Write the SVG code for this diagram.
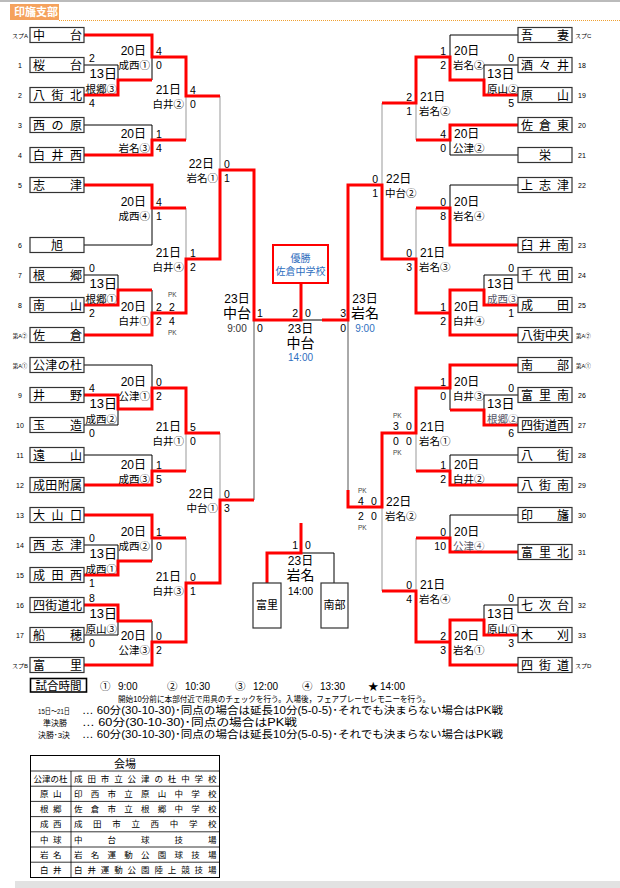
<svg xmlns="http://www.w3.org/2000/svg" width="620" height="888" viewBox="0 0 620 888">
<style>
text{font-family:'Liberation Sans','Noto Sans CJK JP',sans-serif;fill:#000}
.box{fill:#fff;stroke:#333;stroke-width:1.2}
.t{font-size:12px}
.n{font-size:7px;text-anchor:middle}
.nr{font-size:7px}
.d{font-size:12px}
.d13{font-size:13px}
.v{font-size:10.5px}
.s{font-size:10.5px}
.pk{font-size:6.5px;fill:#444}
.e{text-anchor:end}
.m{text-anchor:middle}
.bk{fill:none;stroke:#000;stroke-width:1}
.gr{fill:none;stroke:#999;stroke-width:1}
.g2{fill:none;stroke:#555;stroke-width:1}
.rd{fill:none;stroke:#f00;stroke-width:3}
.big{font-size:14px}
.tm{font-size:10px}
.blue{fill:#2f6fc0}
.tb{font-size:8.5px}
</style>
<rect x="0" y="0" width="620" height="888" fill="#fff"/>
<line x1="0" y1="1" x2="620" y2="1" stroke="#bbb" stroke-width="2"/>
<g id="header">
<rect x="10" y="4" width="49" height="16" fill="#f5a25d"/>
<text x="14" y="16" font-size="11" font-weight="bold" style="fill:#fff">印旛支部</text>
<line x1="59" y1="20.5" x2="620" y2="20.5" stroke="#f0a030" stroke-width="1" stroke-dasharray="1,1"/>
</g>

<g id="connectors">
<path class="bk" d="M84,65H118M84,125H152M84,245H152M84,275H118M84,365H152M84,425H118M84,455H152M84,545H118M84,635H118
M118,65V95M152,35V80M152,125V155M152,185V245M118,275V305M152,290V335M118,395V425M152,365V409M152,455V485M118,545V575M152,515V561M118,605V635M152,621V665
M518,35H450M518,65H484M518,155H450M518,185H450M518,275H484M518,395H484M518,455H450M518,515H450M518,605H484
M484,65V95M450,35V80M450,125V155M450,185V245M484,275V305M450,290V335M484,395V425M450,365V410M450,455V485M450,515V552M484,605V635M450,620V665
M301,320H322M301,553H334V583"/>
<path class="gr" d="M186,57V140M186,208V313M220,96V259M186,388V471M186,538V642M220,433V583
M416,57V140M416,208V313M382,103V259M416,388V471M416,538V642M382,433V591"/>
<path class="g2" d="M254,170V500M348,185V507"/>
<path class="rd" d="M84,35H152V57H186V96H220
M84,95H118V80H152
M84,155H152V140H186
M84,185H152V208H186
M84,305H118V290H152
M84,335H152V313H186V259H220V170H254V320H301V283
M84,395H118V409H152V388H186V433H220
M84,485H152V471H186
M84,515H152V538H186
M84,575H118V561H152
M84,605H118V621H152
M84,665H152V642H186V583H220V500H254
M301,523V553H267V583
M518,95H484V80H450V57H416V103H382
M518,125H450V140H416
M518,245H450V208H416
M518,305H484V290H450V313
M518,335H450V313H416V259H382V185H348V320H322
M518,365H450V388H416V433H382V507H348V490
M518,425H484V410H450
M518,485H450V471H416
M518,552H450V538H416
M518,635H484V620H450V642
M518,665H450V642H416V591H382"/>
</g>

<g id="L00"><rect class="box" x="30" y="27.5" width="54" height="15"/><text class="t" x="33 70" y="39.5">中台</text><text class="n" x="20" y="37.5" style="font-size:6px">スプA</text></g>
<g id="L01"><rect class="box" x="30" y="57.5" width="54" height="15"/><text class="t" x="33 70" y="69.5">桜台</text><text class="n" x="20" y="67.5">1</text></g>
<g id="L02"><rect class="box" x="30" y="87.5" width="54" height="15"/><text class="t" x="33 51.5 70" y="99.5">八街北</text><text class="n" x="20" y="97.5">2</text></g>
<g id="L03"><rect class="box" x="30" y="117.5" width="54" height="15"/><text class="t" x="33 51.5 70" y="129.5">西の原</text><text class="n" x="20" y="127.5">3</text></g>
<g id="L04"><rect class="box" x="30" y="147.5" width="54" height="15"/><text class="t" x="33 51.5 70" y="159.5">白井西</text><text class="n" x="20" y="157.5">4</text></g>
<g id="L05"><rect class="box" x="30" y="177.5" width="54" height="15"/><text class="t" x="33 70" y="189.5">志津</text><text class="n" x="20" y="187.5">5</text></g>
<g id="L06"><rect class="box" x="30" y="237.5" width="54" height="15"/><text class="t m" x="57" y="249.5">旭</text><text class="n" x="20" y="247.5">6</text></g>
<g id="L07"><rect class="box" x="30" y="267.5" width="54" height="15"/><text class="t" x="33 70" y="279.5">根郷</text><text class="n" x="20" y="277.5">7</text></g>
<g id="L08"><rect class="box" x="30" y="297.5" width="54" height="15"/><text class="t" x="33 70" y="309.5">南山</text><text class="n" x="20" y="307.5">8</text></g>
<g id="L09"><rect class="box" x="30" y="327.5" width="54" height="15"/><text class="t" x="33 70" y="339.5">佐倉</text><text class="n" x="20" y="337.5" style="font-size:5.5px">第A②</text></g>
<g id="L10"><rect class="box" x="30" y="357.5" width="54" height="15"/><text class="t" x="33 45.3 57.7 70" y="369.5">公津の杜</text><text class="n" x="20" y="367.5" style="font-size:5.5px">第A①</text></g>
<g id="L11"><rect class="box" x="30" y="387.5" width="54" height="15"/><text class="t" x="33 70" y="399.5">井野</text><text class="n" x="20" y="397.5">9</text></g>
<g id="L12"><rect class="box" x="30" y="417.5" width="54" height="15"/><text class="t" x="33 70" y="429.5">玉造</text><text class="n" x="20" y="427.5">10</text></g>
<g id="L13"><rect class="box" x="30" y="447.5" width="54" height="15"/><text class="t" x="33 70" y="459.5">遠山</text><text class="n" x="20" y="457.5">11</text></g>
<g id="L14"><rect class="box" x="30" y="477.5" width="54" height="15"/><text class="t" x="33 45.3 57.7 70" y="489.5">成田附属</text><text class="n" x="20" y="487.5">12</text></g>
<g id="L15"><rect class="box" x="30" y="507.5" width="54" height="15"/><text class="t" x="33 51.5 70" y="519.5">大山口</text><text class="n" x="20" y="517.5">13</text></g>
<g id="L16"><rect class="box" x="30" y="537.5" width="54" height="15"/><text class="t" x="33 51.5 70" y="549.5">西志津</text><text class="n" x="20" y="547.5">14</text></g>
<g id="L17"><rect class="box" x="30" y="567.5" width="54" height="15"/><text class="t" x="33 51.5 70" y="579.5">成田西</text><text class="n" x="20" y="577.5">15</text></g>
<g id="L18"><rect class="box" x="30" y="597.5" width="54" height="15"/><text class="t" x="33 45.3 57.7 70" y="609.5">四街道北</text><text class="n" x="20" y="607.5">16</text></g>
<g id="L19"><rect class="box" x="30" y="627.5" width="54" height="15"/><text class="t" x="33 70" y="639.5">船穂</text><text class="n" x="20" y="637.5">17</text></g>
<g id="L20"><rect class="box" x="30" y="657.5" width="54" height="15"/><text class="t" x="33 70" y="669.5">富里</text><text class="n" x="20" y="667.5" style="font-size:6px">スプB</text></g>

<g id="R00"><rect class="box" x="518" y="27.5" width="54" height="15"/><text class="t" x="521 557" y="39.5">吾妻</text><text class="nr" x="575" y="37.5" style="font-size:6px">スプC</text></g>
<g id="R01"><rect class="box" x="518" y="57.5" width="54" height="15"/><text class="t" x="521 539 557" y="69.5">酒々井</text><text class="nr" x="578" y="67.5">18</text></g>
<g id="R02"><rect class="box" x="518" y="87.5" width="54" height="15"/><text class="t" x="521 557" y="99.5">原山</text><text class="nr" x="578" y="97.5">19</text></g>
<g id="R03"><rect class="box" x="518" y="117.5" width="54" height="15"/><text class="t" x="521 539 557" y="129.5">佐倉東</text><text class="nr" x="578" y="127.5">20</text></g>
<g id="R04"><rect class="box" x="518" y="147.5" width="54" height="15"/><text class="t m" x="545" y="159.5">栄</text><text class="nr" x="578" y="157.5">21</text></g>
<g id="R05"><rect class="box" x="518" y="177.5" width="54" height="15"/><text class="t" x="521 539 557" y="189.5">上志津</text><text class="nr" x="578" y="187.5">22</text></g>
<g id="R06"><rect class="box" x="518" y="237.5" width="54" height="15"/><text class="t" x="521 539 557" y="249.5">臼井南</text><text class="nr" x="578" y="247.5">23</text></g>
<g id="R07"><rect class="box" x="518" y="267.5" width="54" height="15"/><text class="t" x="521 539 557" y="279.5">千代田</text><text class="nr" x="578" y="277.5">24</text></g>
<g id="R08"><rect class="box" x="518" y="297.5" width="54" height="15"/><text class="t" x="521 557" y="309.5">成田</text><text class="nr" x="578" y="307.5">25</text></g>
<g id="R09"><rect class="box" x="518" y="327.5" width="54" height="15"/><text class="t" x="521 533 545 557" y="339.5">八街中央</text><text class="nr" x="576" y="337.5" style="font-size:5.5px">第A②</text></g>
<g id="R10"><rect class="box" x="518" y="357.5" width="54" height="15"/><text class="t" x="521 557" y="369.5">南部</text><text class="nr" x="576" y="367.5" style="font-size:5.5px">第A①</text></g>
<g id="R11"><rect class="box" x="518" y="387.5" width="54" height="15"/><text class="t" x="521 539 557" y="399.5">富里南</text><text class="nr" x="578" y="397.5">26</text></g>
<g id="R12"><rect class="box" x="518" y="417.5" width="54" height="15"/><text class="t" x="521 533 545 557" y="429.5">四街道西</text><text class="nr" x="578" y="427.5">27</text></g>
<g id="R13"><rect class="box" x="518" y="447.5" width="54" height="15"/><text class="t" x="521 557" y="459.5">八街</text><text class="nr" x="578" y="457.5">28</text></g>
<g id="R14"><rect class="box" x="518" y="477.5" width="54" height="15"/><text class="t" x="521 539 557" y="489.5">八街南</text><text class="nr" x="578" y="487.5">29</text></g>
<g id="R15"><rect class="box" x="518" y="507.5" width="54" height="15"/><text class="t" x="521 557" y="519.5">印旛</text><text class="nr" x="578" y="517.5">30</text></g>
<g id="R16"><rect class="box" x="518" y="544.5" width="54" height="15"/><text class="t" x="521 539 557" y="556.5">富里北</text><text class="nr" x="578" y="554.5">31</text></g>
<g id="R17"><rect class="box" x="518" y="597.5" width="54" height="15"/><text class="t" x="521 539 557" y="609.5">七次台</text><text class="nr" x="578" y="607.5">32</text></g>
<g id="R18"><rect class="box" x="518" y="627.5" width="54" height="15"/><text class="t" x="521 557" y="639.5">木刈</text><text class="nr" x="578" y="637.5">33</text></g>
<g id="R19"><rect class="box" x="518" y="657.5" width="54" height="15"/><text class="t" x="521 539 557" y="669.5">四街道</text><text class="nr" x="575" y="667.5" style="font-size:6px">スプD</text></g>

<g id="match-labels-left">
<text class="d13 e" x="117" y="78">13日</text><text class="v e" x="117" y="93">根郷③</text><text class="s" x="89" y="62">2</text><text class="s" x="89" y="107">4</text>
<text class="d e" x="146" y="55">20日</text><text class="v e" x="150" y="69">成西①</text><text class="s" x="156" y="55">4</text><text class="s" x="156" y="69">0</text>
<text class="d e" x="146" y="138">20日</text><text class="v e" x="150" y="152">岩名③</text><text class="s" x="156" y="138">1</text><text class="s" x="156" y="152">4</text>
<text class="d e" x="181" y="94">21日</text><text class="v e" x="184" y="108">白井②</text><text class="s" x="190" y="94">4</text><text class="s" x="190" y="108">0</text>
<text class="d e" x="146" y="206">20日</text><text class="v e" x="150" y="220">成西④</text><text class="s" x="156" y="206">4</text><text class="s" x="156" y="220">1</text>
<text class="d13 e" x="117" y="288">13日</text><text class="v e" x="117" y="303">根郷①</text><text class="s" x="89" y="272">0</text><text class="s" x="89" y="317">2</text>
<text class="d e" x="146" y="311">20日</text><text class="v e" x="150" y="325">白井①</text><text class="pk" x="168" y="297">PK</text><text class="s" x="156" y="311">2</text><text class="s" x="169" y="311">2</text><text class="s" x="156" y="325">2</text><text class="s" x="169" y="325">4</text><text class="pk" x="168" y="335">PK</text>
<text class="d e" x="181" y="257">21日</text><text class="v e" x="184" y="271">白井④</text><text class="s" x="190" y="257">1</text><text class="s" x="190" y="271">2</text>
<text class="d e" x="214" y="168">22日</text><text class="v e" x="218" y="182">岩名①</text><text class="s" x="224" y="168">0</text><text class="s" x="224" y="182">1</text>
<text class="d13 e" x="117" y="408">13日</text><text class="v e" x="117" y="423">成西②</text><text class="s" x="89" y="392">4</text><text class="s" x="89" y="437">0</text>
<text class="d e" x="146" y="386">20日</text><text class="v e" x="150" y="400">公津①</text><text class="s" x="156" y="386">0</text><text class="s" x="156" y="400">2</text>
<text class="d e" x="146" y="469">20日</text><text class="v e" x="150" y="483">成西③</text><text class="s" x="156" y="469">1</text><text class="s" x="156" y="483">5</text>
<text class="d e" x="181" y="431">21日</text><text class="v e" x="184" y="445">白井①</text><text class="s" x="190" y="431">5</text><text class="s" x="190" y="445">0</text>
<text class="d13 e" x="117" y="558">13日</text><text class="v e" x="117" y="573">成西①</text><text class="s" x="89" y="542">0</text><text class="s" x="89" y="587">1</text>
<text class="d e" x="146" y="536">20日</text><text class="v e" x="150" y="550">成西②</text><text class="s" x="156" y="536">1</text><text class="s" x="156" y="550">0</text>
<text class="d13 e" x="117" y="618">13日</text><text class="v e" x="117" y="633">原山③</text><text class="s" x="89" y="602">8</text><text class="s" x="89" y="647">0</text>
<text class="d e" x="146" y="640">20日</text><text class="v e" x="150" y="654">公津③</text><text class="s" x="156" y="640">0</text><text class="s" x="156" y="654">2</text>
<text class="d e" x="181" y="581">21日</text><text class="v e" x="184" y="595">白井③</text><text class="s" x="190" y="581">0</text><text class="s" x="190" y="595">1</text>
<text class="d e" x="214" y="498">22日</text><text class="v e" x="218" y="512">中台①</text><text class="s" x="224" y="498">0</text><text class="s" x="224" y="512">3</text>
</g>

<g id="match-labels-right">
<text class="d13" x="487" y="78">13日</text><text class="v" x="487" y="93">原山②</text><text class="s e" x="514" y="62">0</text><text class="s e" x="514" y="107">5</text>
<text class="d" x="454" y="55">20日</text><text class="v" x="453" y="69">岩名②</text><text class="s e" x="446" y="55">1</text><text class="s e" x="446" y="69">2</text>
<text class="d" x="454" y="138">20日</text><text class="v" x="453" y="152">公津②</text><text class="s e" x="446" y="138">4</text><text class="s e" x="446" y="152">0</text>
<text class="d" x="420" y="101">21日</text><text class="v" x="419" y="115">岩名②</text><text class="s e" x="412" y="101">2</text><text class="s e" x="412" y="115">1</text>
<text class="d" x="454" y="206">20日</text><text class="v" x="453" y="220">岩名④</text><text class="s e" x="446" y="206">0</text><text class="s e" x="446" y="220">8</text>
<text class="d13" x="487" y="288">13日</text><text class="v" x="487" y="303" style="fill:#556">成西③</text><text class="s e" x="514" y="272">0</text><text class="s e" x="514" y="317">1</text>
<text class="d" x="454" y="311">20日</text><text class="v" x="453" y="325">白井④</text><text class="s e" x="446" y="311">1</text><text class="s e" x="446" y="325">2</text>
<text class="d" x="420" y="257">21日</text><text class="v" x="419" y="271">岩名③</text><text class="s e" x="412" y="257">0</text><text class="s e" x="412" y="271">3</text>
<text class="d" x="386" y="183">22日</text><text class="v" x="385" y="197">中台②</text><text class="s e" x="378" y="183">0</text><text class="s e" x="378" y="197">1</text>
<text class="d13" x="487" y="408">13日</text><text class="v" x="487" y="423" style="fill:#556">根郷②</text><text class="s e" x="514" y="392">0</text><text class="s e" x="514" y="437">6</text>
<text class="d" x="454" y="386">20日</text><text class="v" x="453" y="400">白井③</text><text class="s e" x="446" y="386">1</text><text class="s e" x="446" y="400">0</text>
<text class="d" x="454" y="469">20日</text><text class="v" x="453" y="483">白井②</text><text class="s e" x="446" y="469">1</text><text class="s e" x="446" y="483">2</text>
<text class="d" x="420" y="431">21日</text><text class="v" x="419" y="445">岩名①</text><text class="pk" x="393" y="418">PK</text><text class="s" x="393" y="430">3</text><text class="s" x="406" y="430">0</text><text class="s" x="393" y="445">0</text><text class="s" x="406" y="445">0</text><text class="pk" x="393" y="455">PK</text>
<text class="d" x="454" y="536">20日</text><text class="v" x="453" y="550" style="fill:#556">公津④</text><text class="s e" x="446" y="536">0</text><text class="s e" x="446" y="550">10</text>
<text class="d13" x="487" y="618">13日</text><text class="v" x="487" y="633">原山①</text><text class="s e" x="514" y="602">0</text><text class="s e" x="514" y="647">3</text>
<text class="d" x="454" y="640">20日</text><text class="v" x="453" y="654">岩名①</text><text class="s e" x="446" y="640">2</text><text class="s e" x="446" y="654">3</text>
<text class="d" x="420" y="589">21日</text><text class="v" x="419" y="603">岩名④</text><text class="s e" x="412" y="589">0</text><text class="s e" x="412" y="603">4</text>
<text class="d" x="386" y="506">22日</text><text class="v" x="385" y="520">岩名②</text><text class="pk" x="358" y="493">PK</text><text class="s" x="358" y="505">4</text><text class="s" x="371" y="505">0</text><text class="s" x="358" y="520">2</text><text class="s" x="371" y="520">0</text><text class="pk" x="358" y="530">PK</text>
</g>

<g id="semi-left">
<text class="d m" x="237" y="303">23日</text><text class="big m" x="237" y="318">中台</text><text class="tm m" x="237" y="332" style="fill:#333">9:00</text>
<text class="s" x="257" y="317">1</text><text class="s" x="257" y="332">0</text>
</g>
<g id="semi-right">
<text class="d m" x="365" y="303">23日</text><text class="big m" x="365" y="318">岩名</text><text class="tm m blue" x="365" y="332">9:00</text>
<text class="s e" x="346" y="317">3</text><text class="s e" x="346" y="332">0</text>
</g>
<g id="final">
<rect x="273" y="245" width="55" height="38" fill="#fff" stroke="#f00" stroke-width="2"/>
<text class="m blue" x="300.5" y="262" font-size="10">優勝</text>
<text class="m blue" x="300.5" y="275" font-size="10">佐倉中学校</text>
<text class="s e" x="298" y="317">2</text><text class="s" x="305" y="317">0</text>
<text class="d m" x="300.5" y="333">23日</text><text class="big m" x="300.5" y="348">中台</text><text class="tm m blue" x="300.5" y="361">14:00</text>
</g>
<g id="third">
<text class="s e" x="298" y="549">1</text><text class="s" x="305" y="549">0</text>
<text class="d m" x="300.5" y="565">23日</text><text class="big m" x="300.5" y="580">岩名</text><text class="tm m" x="300.5" y="595">14:00</text>
<g id="T1"><rect class="box" x="253" y="583" width="28" height="45"/><text class="m" x="267" y="609" font-size="11">富里</text></g>
<g id="T2"><rect class="box" x="321" y="583" width="27" height="45"/><text class="m" x="334.5" y="609" font-size="11">南部</text></g>
</g>

<g id="times">
<rect x="30.5" y="678.5" width="56" height="13.5" fill="none" stroke="#000" stroke-width="1.6"/>
<text x="58.5" y="689.5" font-size="11.5" class="m">試合時間</text>
<text x="100" y="690" font-size="10.5">①</text><text x="118" y="690" font-size="10">9:00</text>
<text x="167" y="690" font-size="10.5">②</text><text x="185" y="690" font-size="10">10:30</text>
<text x="235" y="690" font-size="10.5">③</text><text x="253" y="690" font-size="10">12:00</text>
<text x="302" y="690" font-size="10.5">④</text><text x="320" y="690" font-size="10">13:30</text>
<text x="368" y="690" font-size="10.5">★</text><text x="380" y="690" font-size="10">14:00</text>
<text x="118" y="701.5" font-size="8.5" textLength="312" lengthAdjust="spacingAndGlyphs">開始10分前に本部付近で用具のチェックを行う。入場後，フェアプレーセレモニーを行う。</text>
<text x="38" y="714" font-size="8" textLength="32" lengthAdjust="spacingAndGlyphs">15日～21日</text>
<text x="82" y="714" font-size="10.5" textLength="421" lengthAdjust="spacingAndGlyphs">… 60分(30-10-30)･同点の場合は延長10分(5-0-5)･それでも決まらない場合はPK戦</text>
<text x="43" y="726" font-size="8">準決勝</text>
<text x="82" y="726" font-size="10.5" textLength="215" lengthAdjust="spacingAndGlyphs">… 60分(30-10-30)･同点の場合はPK戦</text>
<text x="38" y="738" font-size="8" textLength="32" lengthAdjust="spacingAndGlyphs">決勝･3決</text>
<text x="82" y="738" font-size="10.5" textLength="421" lengthAdjust="spacingAndGlyphs">… 60分(30-10-30)･同点の場合は延長10分(5-0-5)･それでも決まらない場合はPK戦</text>
</g>

<g id="venues">
<rect x="30.5" y="755.5" width="189" height="122" fill="#fff" stroke="#000" stroke-width="1"/>
<path d="M30.5,771H219.5M30.5,786.2H219.5M30.5,801.4H219.5M30.5,816.6H219.5M30.5,831.8H219.5M30.5,847H219.5M30.5,862.2H219.5M71,771V877.5" stroke="#000" stroke-width="0.8" fill="none"/>
<text x="125" y="768" font-size="11" class="m">会場</text>
<text class="tb m" x="50.5" y="782">公津の杜</text>
<text class="tb" x="40 53" y="797">原山</text>
<text class="tb" x="40 53" y="812">根郷</text>
<text class="tb" x="40 53" y="827">成西</text>
<text class="tb" x="40 53" y="843">中球</text>
<text class="tb" x="40 53" y="858">岩名</text>
<text class="tb" x="40 53" y="873">白井</text>
<text class="tb" x="74 87.4 100.8 114.2 127.6 141 154.4 167.8 181.2 194.6 208" y="782">成田市立公津の杜中学校</text>
<text class="tb" x="74 90.75 107.5 124.25 141 157.75 174.5 191.25 208" y="797">印西市立原山中学校</text>
<text class="tb" x="74 90.75 107.5 124.25 141 157.75 174.5 191.25 208" y="812">佐倉市立根郷中学校</text>
<text class="tb" x="74 93.1 112.3 131.4 150.6 169.7 188.9 208" y="827">成田市立西中学校</text>
<text class="tb" x="74 107.5 141 174.5 208" y="843">中台球技場</text>
<text class="tb" x="74 90.75 107.5 124.25 141 157.75 174.5 191.25 208" y="858">岩名運動公園球技場</text>
<text class="tb" x="74 87.4 100.8 114.2 127.6 141 154.4 167.8 181.2 194.6 208" y="873">白井運動公園陸上競技場</text>
</g>
<rect x="15" y="881" width="605" height="7" fill="#e2e2e2"/>
</svg>
